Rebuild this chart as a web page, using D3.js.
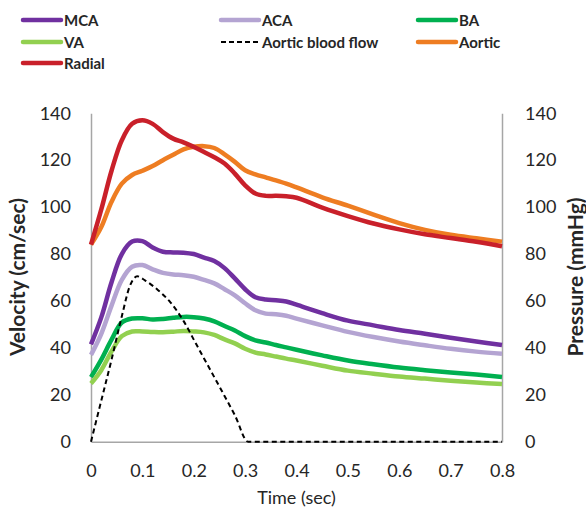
<!DOCTYPE html>
<html>
<head>
<meta charset="utf-8">
<script src="https://cdn.jsdelivr.net/npm/d3@7"></script>
<style>
  body { margin: 0; background: #fff; }
  text { font-family: Lato, "Open Sans", sans-serif; fill: #262626; }
</style>
</head>
<body>
<div id="chart"></div>
<script>
// time points (sec)
const time = [0, 0.02, 0.04, 0.06, 0.08, 0.1, 0.12, 0.14, 0.16, 0.18, 0.2, 0.22, 0.24, 0.26, 0.28, 0.3,
  0.32, 0.34, 0.36, 0.38, 0.4, 0.45, 0.5, 0.55, 0.6, 0.65, 0.7, 0.75, 0.8];

// velocities (cm/sec)
const mca = [41.5, 53, 68, 80, 85.3, 85.5, 82.8, 81, 80.7, 80.6, 80, 78.5, 77, 74, 69.6, 65,
  61.6, 60.6, 60.3, 59.8, 58.4, 54.8, 51.6, 49.6, 47.6, 46, 44.3, 42.7, 41.2];
const aca = [37, 46, 58, 69, 74.6, 75.3, 73.5, 72, 71.3, 71, 70.3, 69, 67.5, 65, 62.4, 59,
  56, 54.6, 54.3, 53.7, 52.5, 49.6, 46.8, 44.6, 42.7, 41.1, 39.6, 38.4, 37.5];
const ba = [27.5, 35, 43.5, 50.8, 52.5, 52.6, 52.1, 52.3, 52.8, 53.2, 53.1, 52.5, 51.3, 49.3, 47.4, 45,
  43.2, 42.3, 41.2, 40.2, 39.2, 36.8, 34.6, 33, 31.6, 30.5, 29.5, 28.6, 27.6];
const va = [24.8, 30.5, 38.5, 45, 47, 47, 46.8, 46.7, 46.9, 47.2, 47, 46.6, 45.5, 43.6, 41.9, 39.6,
  38, 37.2, 36.3, 35.4, 34.6, 32.4, 30.3, 29, 27.8, 26.9, 26, 25.2, 24.6];

// pressures (mmHg)
const aortic = [84, 91.5, 102.3, 110, 113.7, 115.5, 117.5, 120, 122.3, 124.6, 125.7, 126, 125.2, 122.5, 119.3, 115.7,
  114, 112.7, 111.4, 110, 108.4, 104.2, 100.6, 96.8, 93.2, 90.3, 88.2, 86.7, 85.3];
const radial = [84, 99, 115.5, 128.5, 135.5, 137, 135.5, 132, 129.2, 127.6, 125.7, 123.5, 121.3, 118.6, 114.3, 109.3,
  105.8, 104.8, 104.8, 104.6, 104, 99.8, 96.2, 93, 90.5, 88.4, 86.8, 85.2, 83.3];

// aortic blood flow
const flowTime = [0, 0.02, 0.04, 0.06, 0.075, 0.09, 0.105, 0.13, 0.155, 0.18, 0.205, 0.23, 0.255, 0.28, 0.306, 0.8];
const flow = [0, 17.5, 35, 53.5, 66, 70.5, 68.8, 64.7, 59.3, 51.5, 41.5, 31.5, 21.5, 11.3, 0, 0];

const xTicks = [0, 0.1, 0.2, 0.3, 0.4, 0.5, 0.6, 0.7, 0.8];
const yTicks = [0, 20, 40, 60, 80, 100, 120, 140];

const series = [
  { name: "MCA", t: time, v: mca, color: "#7030a0" },
  { name: "ACA", t: time, v: aca, color: "#b4a4d2" },
  { name: "BA", t: time, v: ba, color: "#00b050" },
  { name: "VA", t: time, v: va, color: "#92d050" },
  { name: "Aortic blood flow", t: flowTime, v: flow, color: "#000", dash: true },
  { name: "Aortic", t: time, v: aortic, color: "#ee7d22" },
  { name: "Radial", t: time, v: radial, color: "#c9202a" }
];

const width = 586, height = 508;
const plotLeft = 91, plotRight = 502, plotTop = 113.3, plotBottom = 441.7;

const x = d3.scaleLinear().domain([0, 0.8]).range([plotLeft, plotRight]);
const yL = d3.scaleLinear().domain([0, 140]).range([plotBottom, plotTop]);
const yR = d3.scaleLinear().domain([0, 140]).range([plotBottom, plotTop]);

const svg = d3.select("#chart").append("svg")
  .attr("width", width)
  .attr("height", height);

// axes
svg.append("g")
  .attr("transform", `translate(${plotLeft},0)`)
  .call(d3.axisLeft(yL).tickValues(yTicks).tickSize(0).tickPadding(20))
  .call(g => g.select(".domain").attr("stroke", "#a6a6a6").attr("stroke-width", 1.5))
  .call(g => g.selectAll("text").attr("font-size", 18).attr("font-family", "Lato").attr("fill", "#262626"));

svg.append("g")
  .attr("transform", `translate(${plotRight},0)`)
  .call(d3.axisRight(yR).tickValues(yTicks).tickSize(0).tickPadding(23))
  .call(g => g.select(".domain").attr("stroke", "#a6a6a6").attr("stroke-width", 1.5))
  .call(g => g.selectAll("text").attr("font-size", 18).attr("font-family", "Lato").attr("fill", "#262626"));

svg.append("g")
  .attr("transform", `translate(0,${plotBottom})`)
  .call(d3.axisBottom(x).tickValues(xTicks).tickFormat(d3.format("~g")).tickSize(0).tickPadding(23))
  .call(g => g.select(".domain").attr("stroke", "#a6a6a6").attr("stroke-width", 1.5))
  .call(g => g.selectAll("text").attr("font-size", 18).attr("font-family", "Lato").attr("fill", "#262626"));

// axis titles
svg.append("text")
  .attr("transform", `translate(25,277) rotate(-90)`)
  .attr("text-anchor", "middle")
  .attr("font-size", 21).attr("font-weight", 700)
  .text("Velocity (cm/sec)");

svg.append("text")
  .attr("transform", `translate(583,277) rotate(-90)`)
  .attr("text-anchor", "middle")
  .attr("font-size", 21).attr("font-weight", 700)
  .text("Pressure (mmHg)");

svg.append("text")
  .attr("x", (plotLeft + plotRight) / 2).attr("y", 504)
  .attr("text-anchor", "middle")
  .attr("font-size", 18)
  .text("Time (sec)");

// lines: smoothed like the spreadsheet, flow kept monotone so it doesn't dip below 0
const line = s => d3.line()
  .x((d, i) => x(s.t[i]))
  .y(d => yL(d))
  .curve(s.dash ? d3.curveMonotoneX : d3.curveCatmullRom.alpha(0.5))(s.v);

svg.append("g")
  .attr("fill", "none")
  .selectAll("path")
  .data(series)
  .join("path")
  .attr("d", line)
  .attr("stroke", d => d.color)
  .attr("stroke-width", d => d.dash ? 2 : 4.5)
  .attr("stroke-dasharray", d => d.dash ? "5,3.5" : null)
  .attr("stroke-linejoin", "round");

// legend
const legendPos = [
  [23, 20], [221, 20], [418, 20],
  [23, 42], [221, 42], [418, 42],
  [23, 63]
];
const legendOrder = ["MCA", "ACA", "BA", "VA", "Aortic blood flow", "Aortic", "Radial"];

const lg = svg.append("g")
  .selectAll("g")
  .data(legendOrder.map(n => series.find(s => s.name === n)))
  .join("g")
  .attr("transform", (d, i) => `translate(${legendPos[i][0]},${legendPos[i][1]})`);

lg.append("line")
  .attr("x1", 0).attr("x2", 38)
  .attr("stroke", d => d.color)
  .attr("stroke-width", d => d.dash ? 2 : 4.5)
  .attr("stroke-dasharray", d => d.dash ? "5,3" : null)
  .attr("stroke-linecap", d => d.dash ? "butt" : "round");

lg.append("text")
  .attr("x", 41).attr("y", 5.5)
  .attr("font-size", 15).attr("font-weight", 700)
  .text(d => d.name);
</script>
</body>
</html>
